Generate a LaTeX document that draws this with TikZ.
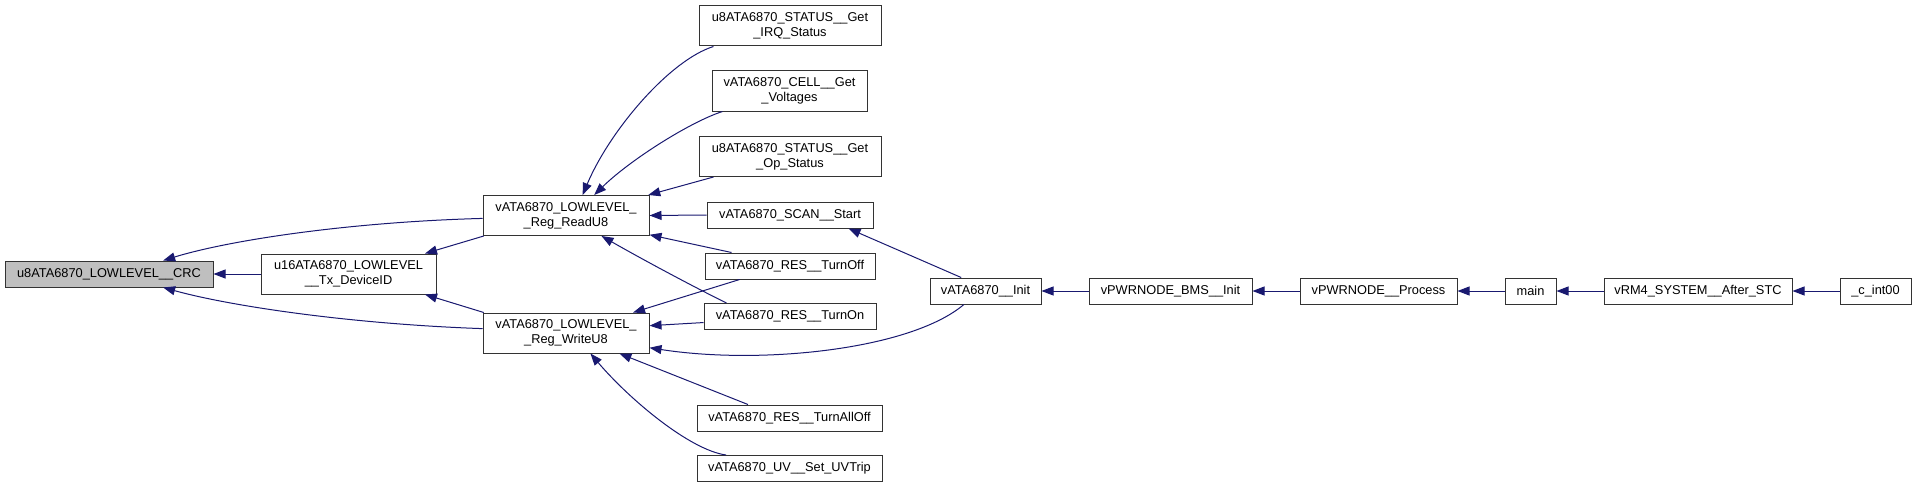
\documentclass[tikz,border=0pt]{standalone}
\usepackage{fontspec}
\setmainfont{Liberation Sans}
\usetikzlibrary{arrows.meta, positioning}
\definecolor{edgeblue}{RGB}{25,25,112}

\begin{document}
\begin{tikzpicture}[x=1pt, y=-1pt,
    fn/.style={draw=black!80, line width=1pt, fill=white, inner sep=0pt,
      minimum height=26pt, align=center, font=\fontsize{12.8}{15}\selectfont},
    fntwo/.style={fn, minimum height=40pt},
    call/.style={draw=edgeblue, line width=1pt, -{Triangle[length=12pt, width=9pt]}}]
  \useasboundingbox (0,0) rectangle (1916,487);

  % functions
  \node[fn, fill=black!25, minimum width=208pt] (crc) at (109,274) {u8ATA6870\_LOWLEVEL\_\_CRC};
  \node[fntwo, minimum width=175pt] (tx) at (348.5,274) {u16ATA6870\_LOWLEVEL\\\_\_Tx\_DeviceID};
  \node[fntwo, minimum width=166pt] (rd) at (566,215.5) {vATA6870\_LOWLEVEL\_\\\_Reg\_ReadU8};
  \node[fntwo, minimum width=166pt] (wr) at (566,333) {vATA6870\_LOWLEVEL\_\\\_Reg\_WriteU8};
  \node[fntwo, minimum width=182pt] (irq) at (790,26) {u8ATA6870\_STATUS\_\_Get\\\_IRQ\_Status};
  \node[fntwo, minimum width=155pt] (volt) at (789.5,91) {vATA6870\_CELL\_\_Get\\\_Voltages};
  \node[fntwo, minimum width=182pt] (op) at (790,156.5) {u8ATA6870\_STATUS\_\_Get\\\_Op\_Status};
  \node[fn, minimum width=166pt] (scan) at (790,215) {vATA6870\_SCAN\_\_Start};
  \node[fn, minimum width=170pt] (off) at (790,266) {vATA6870\_RES\_\_TurnOff};
  \node[fn, minimum width=172pt] (on) at (790,316.5) {vATA6870\_RES\_\_TurnOn};
  \node[fn, minimum width=185pt] (alloff) at (789.5,418) {vATA6870\_RES\_\_TurnAllOff};
  \node[fn, minimum width=185pt] (uv) at (789.5,468.5) {vATA6870\_UV\_\_Set\_UVTrip};
  \node[fn, minimum width=111pt] (init) at (985.5,291) {vATA6870\_\_Init};
  \node[fn, minimum width=163pt] (bms) at (1170.5,291) {vPWRNODE\_BMS\_\_Init};
  \node[fn, minimum width=157pt] (proc) at (1378.5,291) {vPWRNODE\_\_Process};
  \node[fn, minimum width=51pt] (main) at (1530.5,291) {main};
  \node[fn, minimum width=188pt] (stc) at (1698,291) {vRM4\_SYSTEM\_\_After\_STC};
  \node[fn, minimum width=71pt] (cint) at (1875.5,291) {\_c\_int00};

  % calls
  \draw[call] (tx.west) -- (crc.east);
  \draw[call] (rd.182) .. controls (350,222) and (230,240) .. (crc.14);
  \draw[call] (wr.177) .. controls (350,324) and (230,306) .. (crc.-14);
  \draw[call] (rd.194) -- (tx.15);
  \draw[call] (wr.166) -- (tx.-15);
  \draw[call] (irq.195) .. controls (670,60) and (610,130) .. (rd.51);
  \draw[call] (volt.197) .. controls (690,122) and (630,160) .. (rd.36);
  \draw[call] (op.195) -- (rd.14);
  \draw[call] (scan.west) -- (rd.east);
  \draw[call] (off.167) -- (rd.-13);
  \draw[call] (on.168) .. controls (690,285) and (640,258) .. (rd.-30);
  \draw[call] (off.195) -- (wr.17);
  \draw[call] (on.184) -- (wr.5);
  \draw[call] (init.212) .. controls (910,350) and (760,365) .. (wr.-10);
  \draw[call] (init.151) -- (scan.-13);
  \draw[call] (alloff.162) -- (wr.-21);
  \draw[call] (uv.168) .. controls (690,450) and (630,400) .. (wr.-40);
  \draw[call] (bms.west) -- (init.east);
  \draw[call] (proc.west) -- (bms.east);
  \draw[call] (main.west) -- (proc.east);
  \draw[call] (stc.west) -- (main.east);
  \draw[call] (cint.west) -- (stc.east);
\end{tikzpicture}
\end{document}
